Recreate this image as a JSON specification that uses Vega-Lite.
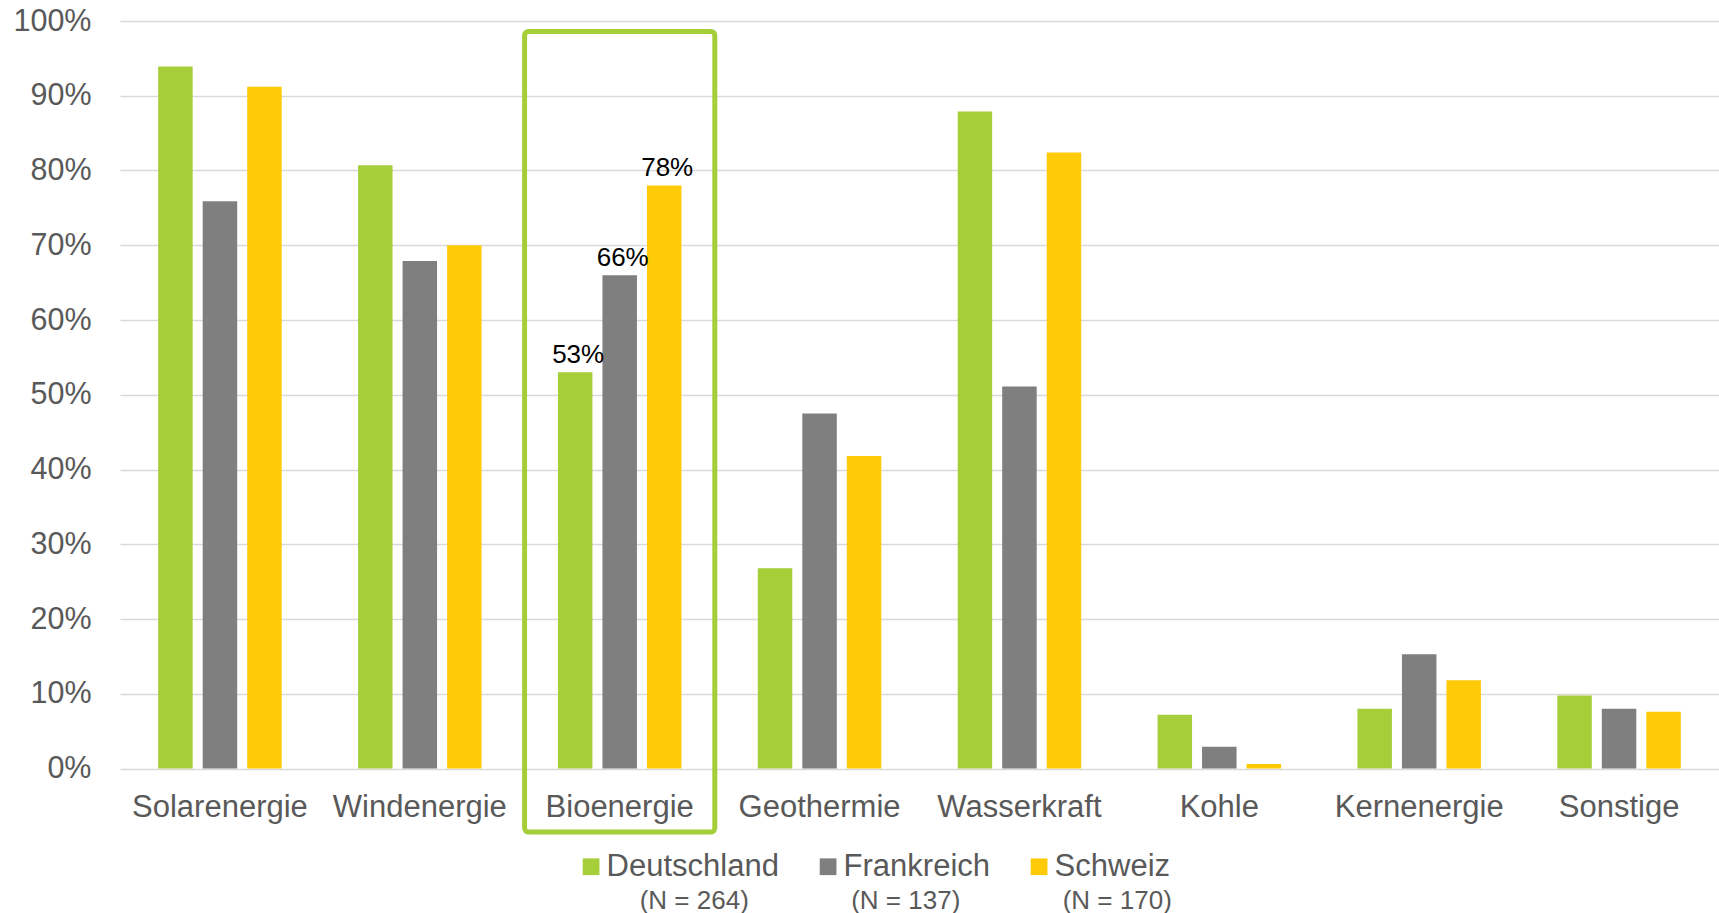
{
  "$schema": "https://vega.github.io/schema/vega-lite/v6.json",
  "width": 1599,
  "height": 747.5,
  "autosize": {"type": "none"},
  "padding": {"left": 120, "top": 21, "right": 0, "bottom": 144.5},
  "background": "white",
  "config": {
    "view": {"stroke": null},
    "font": "Liberation Sans"
  },
  "datasets": {
    "anteile": [
      {"Quelle": "Solarenergie", "Land": "Deutschland", "Stichprobe": "(N = 264)", "Anteil": 0.939},
      {"Quelle": "Solarenergie", "Land": "Frankreich", "Stichprobe": "(N = 137)", "Anteil": 0.759},
      {"Quelle": "Solarenergie", "Land": "Schweiz", "Stichprobe": "(N = 170)", "Anteil": 0.912},
      {"Quelle": "Windenergie", "Land": "Deutschland", "Stichprobe": "(N = 264)", "Anteil": 0.807},
      {"Quelle": "Windenergie", "Land": "Frankreich", "Stichprobe": "(N = 137)", "Anteil": 0.679},
      {"Quelle": "Windenergie", "Land": "Schweiz", "Stichprobe": "(N = 170)", "Anteil": 0.70},
      {"Quelle": "Bioenergie", "Land": "Deutschland", "Stichprobe": "(N = 264)", "Anteil": 0.53},
      {"Quelle": "Bioenergie", "Land": "Frankreich", "Stichprobe": "(N = 137)", "Anteil": 0.66},
      {"Quelle": "Bioenergie", "Land": "Schweiz", "Stichprobe": "(N = 170)", "Anteil": 0.78},
      {"Quelle": "Geothermie", "Land": "Deutschland", "Stichprobe": "(N = 264)", "Anteil": 0.268},
      {"Quelle": "Geothermie", "Land": "Frankreich", "Stichprobe": "(N = 137)", "Anteil": 0.475},
      {"Quelle": "Geothermie", "Land": "Schweiz", "Stichprobe": "(N = 170)", "Anteil": 0.418},
      {"Quelle": "Wasserkraft", "Land": "Deutschland", "Stichprobe": "(N = 264)", "Anteil": 0.879},
      {"Quelle": "Wasserkraft", "Land": "Frankreich", "Stichprobe": "(N = 137)", "Anteil": 0.511},
      {"Quelle": "Wasserkraft", "Land": "Schweiz", "Stichprobe": "(N = 170)", "Anteil": 0.824},
      {"Quelle": "Kohle", "Land": "Deutschland", "Stichprobe": "(N = 264)", "Anteil": 0.072},
      {"Quelle": "Kohle", "Land": "Frankreich", "Stichprobe": "(N = 137)", "Anteil": 0.029},
      {"Quelle": "Kohle", "Land": "Schweiz", "Stichprobe": "(N = 170)", "Anteil": 0.006},
      {"Quelle": "Kernenergie", "Land": "Deutschland", "Stichprobe": "(N = 264)", "Anteil": 0.080},
      {"Quelle": "Kernenergie", "Land": "Frankreich", "Stichprobe": "(N = 137)", "Anteil": 0.153},
      {"Quelle": "Kernenergie", "Land": "Schweiz", "Stichprobe": "(N = 170)", "Anteil": 0.118},
      {"Quelle": "Sonstige", "Land": "Deutschland", "Stichprobe": "(N = 264)", "Anteil": 0.0975},
      {"Quelle": "Sonstige", "Land": "Frankreich", "Stichprobe": "(N = 137)", "Anteil": 0.080},
      {"Quelle": "Sonstige", "Land": "Schweiz", "Stichprobe": "(N = 170)", "Anteil": 0.076}
    ],
    "markierung": [
      {"Quelle": "Bioenergie", "oben": 0.986, "unten": -0.085}
    ]
  },
  "layer": [
    {
      "data": {"name": "anteile"},
      "mark": {"type": "bar", "strokeWidth": 0},
      "encoding": {
        "x": {
          "field": "Quelle",
          "type": "nominal",
          "sort": ["Solarenergie", "Windenergie", "Bioenergie", "Geothermie", "Wasserkraft", "Kohle", "Kernenergie", "Sonstige"],
          "scale": {"paddingInner": 0.382, "paddingOuter": 0.191},
          "axis": {
            "title": null,
            "labelAngle": 0,
            "labelFontSize": 31,
            "labelColor": "#595959",
            "labelPadding": 23.5,
            "ticks": false,
            "tickSize": 0,
            "domain": false,
            "grid": false
          }
        },
        "xOffset": {
          "field": "Land",
          "type": "nominal",
          "sort": ["Deutschland", "Frankreich", "Schweiz"],
          "scale": {"paddingInner": 0.225, "paddingOuter": 0}
        },
        "y": {
          "field": "Anteil",
          "type": "quantitative",
          "scale": {"domain": [0, 1], "nice": false},
          "axis": {
            "title": null,
            "format": ".0%",
            "values": [0, 0.1, 0.2, 0.3, 0.4, 0.5, 0.6, 0.7, 0.8, 0.9, 1],
            "labelFontSize": 30.5,
            "labelColor": "#595959",
            "labelPadding": 29,
            "ticks": false,
            "tickSize": 0,
            "domain": false,
            "grid": true,
            "gridColor": "#d9d9d9",
            "gridWidth": 1.5
          }
        },
        "fill": {
          "field": "Land",
          "type": "nominal",
          "scale": {
            "domain": ["Deutschland", "Frankreich", "Schweiz"],
            "range": ["#a6ce39", "#7f7f7f", "#ffca08"]
          },
          "legend": {
            "orient": "none",
            "legendX": 455.6,
            "legendY": 830,
            "direction": "horizontal",
            "title": null,
            "padding": 0,
            "symbolType": "square",
            "symbolSize": 280,
            "symbolStrokeWidth": 0,
            "labelFontSize": 31,
            "labelLimit": 400,
            "labelColor": "#595959",
            "labelOffset": 0,
            "columnPadding": 33
          }
        },
        "strokeDash": {
          "field": "Stichprobe",
          "type": "nominal",
          "scale": {
            "domain": ["(N = 264)", "(N = 137)", "(N = 170)"],
            "range": [[1, 0], [1, 0], [1, 0]]
          },
          "legend": {
            "orient": "none",
            "legendX": 493.7,
            "legendY": 866.5,
            "direction": "horizontal",
            "title": null,
            "padding": 0,
            "symbolSize": 1,
            "symbolOpacity": 0,
            "symbolStrokeWidth": 0,
            "labelFontSize": 26,
            "labelLimit": 400,
            "labelColor": "#595959",
            "labelOffset": 0,
            "columnPadding": 75.5
          }
        }
      }
    },
    {
      "data": {"name": "anteile"},
      "transform": [{"filter": "datum.Quelle === 'Bioenergie'"}],
      "mark": {"type": "text", "fontSize": 26, "color": "#000000", "baseline": "alphabetic", "dy": -9, "dx": 3},
      "encoding": {
        "x": {
          "field": "Quelle",
          "type": "nominal",
          "sort": ["Solarenergie", "Windenergie", "Bioenergie", "Geothermie", "Wasserkraft", "Kohle", "Kernenergie", "Sonstige"]
        },
        "xOffset": {"field": "Land", "type": "nominal", "sort": ["Deutschland", "Frankreich", "Schweiz"]},
        "y": {"field": "Anteil", "type": "quantitative"},
        "text": {"field": "Anteil", "type": "quantitative", "format": ".0%"}
      }
    },
    {
      "data": {"name": "markierung"},
      "mark": {
        "type": "bar",
        "fill": "transparent",
        "stroke": "#a6ce39",
        "strokeWidth": 5,
        "cornerRadius": 4,
        "width": {"band": 1.54}
      },
      "encoding": {
        "x": {
          "field": "Quelle",
          "type": "nominal",
          "sort": ["Solarenergie", "Windenergie", "Bioenergie", "Geothermie", "Wasserkraft", "Kohle", "Kernenergie", "Sonstige"]
        },
        "y": {"field": "oben", "type": "quantitative"},
        "y2": {"field": "unten"}
      }
    }
  ]
}
